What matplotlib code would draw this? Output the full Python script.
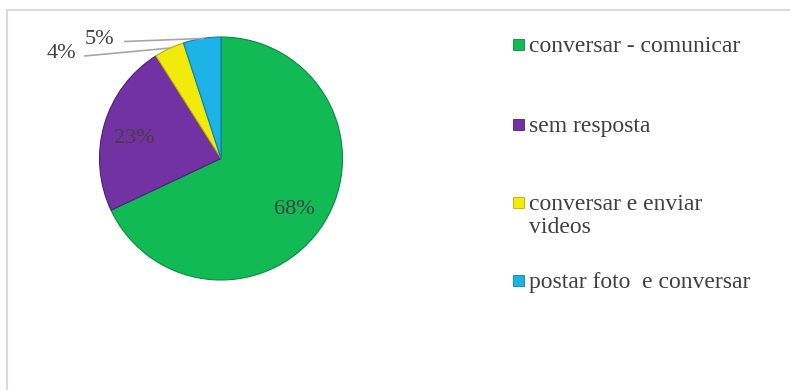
import matplotlib.pyplot as plt
from matplotlib.patches import Rectangle
from matplotlib.lines import Line2D

categories = ["conversar - comunicar", "sem resposta", "conversar e enviar\nvideos",
              "postar foto  e conversar"]
values = [68, 23, 4, 5]
colors = ["#12BA55", "#7232A4", "#F2EA0A", "#1DB3E6"]
edge_colors = ["#0A8A3C", "#4E1F78", "#B8B000", "#0E7FAA"]

W, H = 790, 390
fig = plt.figure(figsize=(W / 100, H / 100), dpi=100)
fig.patch.set_facecolor("white")

# light frame around the chart area (top and left edges visible)
fig.add_artist(Line2D([7 / W, 1.0], [1 - 10 / H, 1 - 10 / H], transform=fig.transFigure,
                      color="#D9D9D9", lw=1.5))
fig.add_artist(Line2D([7 / W, 7 / W], [0.0, 1 - 10 / H], transform=fig.transFigure,
                      color="#D9D9D9", lw=1.5))

# pie axes: centre (221, 158.5) px, radius ~121.5 px
cx, cy, r = 221, 158.5, 121.5
ax = fig.add_axes([(cx - r) / W, (H - cy - r) / H, 2 * r / W, 2 * r / H])

wedges, _, autotexts = ax.pie(
    values, colors=colors, startangle=90, counterclock=False, radius=1.0,
    autopct=lambda p: f"{p:.0f}%", pctdistance=0.72,
    wedgeprops=dict(linewidth=0.8),
    textprops=dict(family="Liberation Serif", fontsize=16, color="#404040"),
)
for w, ec in zip(wedges, edge_colors):
    w.set_edgecolor(ec)
ax.set_xlim(-1, 1)
ax.set_ylim(-1, 1)
ax.set_aspect("equal")
ax.axis("off")

# small slices get labels outside with leader lines
outside = {2: ((-1.31, 0.90), (-1.12, 0.844), (-0.42, 0.909)),
           3: ((-0.996, 1.016), (-0.79, 0.963), (-0.148, 0.988))}
for i, (txt_pos, p0, p1) in outside.items():
    autotexts[i].set_position(txt_pos)
    autotexts[i].set_clip_on(False)
    ax.add_line(Line2D([p0[0], p1[0]], [p0[1], p1[1]], color="#A6A6A6", lw=1.2,
                       clip_on=False))
for t in autotexts:
    x, y = t.get_position()
    t.set_position((x - 0.02 if t is autotexts[1] else x, y - 0.035))

# legend drawn to the right of the pie
legend_y = [45, 125, 203, 281]
for label, col, ec, y in zip(categories, colors, edge_colors, legend_y):
    fig.add_artist(Rectangle((513 / W, 1 - (y + 5) / H), 11 / W, 11 / H,
                             transform=fig.transFigure, facecolor=col,
                             edgecolor=ec, lw=0.6))
    fig.text(529 / W, 1 - (y - 9) / H, label, family="Liberation Serif", fontsize=17,
             color="#404040", va="top", ha="left", linespacing=1.12)

fig.savefig("out.png", dpi=100, facecolor="white")
